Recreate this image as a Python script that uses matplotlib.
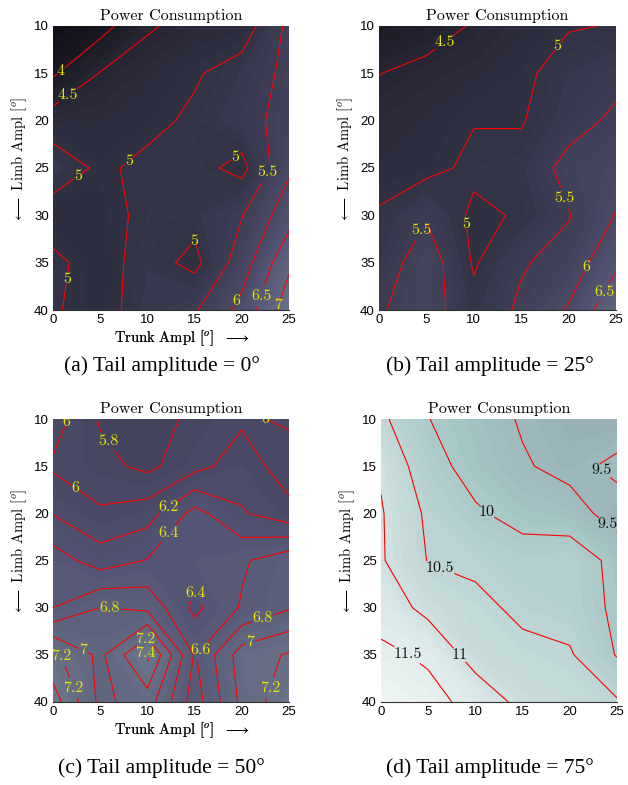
import numpy as np
import matplotlib
matplotlib.use("Agg")
import matplotlib.pyplot as plt
from matplotlib.colors import Normalize

plt.rcParams['font.family'] = ['cmr10', 'DejaVu Serif']
plt.rcParams['mathtext.fontset'] = 'cm'
plt.rcParams['axes.unicode_minus'] = False

trunk = [0, 5, 10, 15, 20, 25]
limb = [10, 15, 20, 25, 30, 35, 40]

# power consumption, rows = limb amplitude, cols = trunk amplitude
power_tail0 = [
    [3.60, 3.81, 4.44, 4.68, 4.73, 5.62],
    [3.94, 4.52, 4.74, 4.95, 5.21, 5.62],
    [4.75, 4.78, 4.88, 5.08, 5.30, 5.70],
    [5.27, 4.92, 5.11, 5.15, 4.86, 5.92],
    [4.77, 4.85, 5.10, 5.15, 5.48, 6.30],
    [5.10, 4.81, 5.19, 4.87, 5.75, 6.90],
    [5.05, 4.80, 5.25, 5.45, 6.15, 7.30],
]
power_tail25 = [
    [4.02, 4.25, 4.55, 4.75, 4.97, 5.02],
    [4.49, 4.65, 4.75, 4.90, 5.20, 5.35],
    [4.70, 4.80, 4.98, 4.97, 5.30, 5.60],
    [4.80, 4.87, 5.10, 5.15, 5.67, 5.85],
    [5.05, 5.45, 4.90, 5.05, 5.47, 6.02],
    [5.20, 5.80, 4.95, 5.45, 5.70, 6.40],
    [5.45, 5.75, 5.14, 5.59, 6.05, 6.90],
]
power_tail50 = [
    [6.10, 5.78, 5.70, 5.85, 5.97, 6.03],
    [5.97, 5.86, 5.75, 5.93, 6.10, 5.90],
    [6.19, 6.03, 6.11, 6.47, 6.22, 6.06],
    [6.50, 6.30, 6.41, 6.50, 6.57, 6.74],
    [6.60, 6.80, 6.75, 6.35, 6.62, 6.78],
    [7.25, 6.95, 7.45, 6.58, 7.10, 7.22],
    [7.50, 6.95, 7.10, 6.50, 7.05, 7.35],
]
power_tail75 = [
    [10.60, 10.01, 9.75, 9.45, 9.25, 9.19],
    [10.94, 10.18, 9.82, 9.55, 9.35, 9.62],
    [11.04, 10.41, 10.06, 9.83, 9.72, 9.28],
    [11.05, 10.48, 10.40, 10.22, 10.30, 9.85],
    [11.30, 10.85, 10.62, 10.40, 10.30, 9.90],
    [11.60, 11.43, 10.78, 10.62, 10.55, 9.97],
    [11.85, 11.65, 11.35, 10.85, 10.70, 10.55],
]

levels_tail0 = [4, 4.5, 5, 5.5, 6, 6.5, 7]
levels_tail25 = [4.5, 5, 5.5, 6, 6.5]
levels_tail50 = [5.8, 6.0, 6.2, 6.4, 6.6, 6.8, 7.0, 7.2, 7.4]
levels_tail75 = [9.5, 10, 10.5, 11, 11.5]

# where the contour labels sit (data coords)
labels_tail0 = [(0.7, 14.6), (1.6, 17.3), (7.9, 24.1), (2.5, 25.7), (19.1, 23.6),
                (14.8, 32.6), (1.4, 36.7), (22.8, 25.5), (19.1, 38.9), (21.7, 38.4),
                (23.5, 39.3)]
labels_tail25 = [(6.0, 10.5), (18.9, 12.2), (19.5, 28.2), (9.5, 30.9), (4.3, 31.5),
                 (21.8, 35.4), (23.4, 37.9)]
labels_tail50 = [(2.2, 10.6), (5.1, 12.9), (21.7, 10.2), (2.2, 17.5), (12.2, 19.3),
                 (12.2, 22.1), (15.2, 28.4), (6.0, 29.8), (22.2, 31.1), (20.7, 33.0),
                 (9.7, 33.2), (9.6, 34.6), (15.7, 34.5), (1.2, 35.0), (3.4, 34.1),
                 (1.6, 38.7), (21.4, 38.0)]
labels_tail75 = [(23.4, 15.4), (24.0, 21.2), (11.3, 19.8), (6.5, 25.2), (2.5, 35.5),
                 (8.0, 35.3)]

captions = ['(a) Tail amplitude = 0°', '(b) Tail amplitude = 25°',
            '(c) Tail amplitude = 50°', '(d) Tail amplitude = 75°']

W, H = 628, 785
fig = plt.figure(figsize=(W / 100, H / 100), dpi=100)

# axes boxes in pixels: left, top, right, bottom
boxes = [(53, 26, 289, 310), (379, 26, 616, 310),
         (53, 419, 289, 702), (381, 419, 617, 702)]
cap_pos = [(162, 366), (490, 366), (161, 768), (490, 768)]

panels = [
    (power_tail0, levels_tail0, labels_tail0, '#e6e600'),
    (power_tail25, levels_tail25, labels_tail25, '#e6e600'),
    (power_tail50, levels_tail50, labels_tail50, '#e6e600'),
    (power_tail75, levels_tail75, labels_tail75, '#111111'),
]

X, Y = np.meshgrid(trunk, limb)
norm = Normalize(vmin=2.9, vmax=12.3)
fill_levels = np.arange(2.8, 12.4, 0.1)

for (Z, lv, lab, lcol), (l, t, r, b), (cx, cy), cap in zip(panels, boxes, cap_pos, captions):
    ax = fig.add_axes([l / W, 1 - b / H, (r - l) / W, (b - t) / H])
    Z = np.array(Z)
    ax.contourf(X, Y, Z, levels=fill_levels, cmap='bone', norm=norm)
    cs = ax.contour(X, Y, Z, levels=lv, colors='red', linewidths=0.8)
    txts = ax.clabel(cs, fmt='%g', colors=lcol, fontsize=11.5, inline=True,
                     inline_spacing=1, manual=lab)
    for tx in txts:
        tx.set_rotation(0)
    ax.set_xlim(0, 25)
    ax.set_ylim(40, 10)
    ax.set_xticks(trunk)
    ax.set_yticks([10, 15, 20, 25, 30, 35, 40])
    ax.tick_params(length=0, labelsize=9.5, labelfontfamily='Liberation Sans', pad=3)
    for s in ['top', 'right', 'left']:
        ax.spines[s].set_visible(False)
    ax.spines['bottom'].set_linewidth(0.8)
    ax.spines['bottom'].set_color('#333333')
    ax.set_title('Power Consumption', fontsize=11.5, pad=4)
    ax.set_xlabel(r'Trunk Ampl [$^o$]  $\longrightarrow$', fontsize=10.5)
    ax.xaxis.set_label_coords((182 - l) / (r - l), -0.065)
    ax.set_ylabel(r'$\longleftarrow$ Limb Ampl [$^o$]', fontsize=10.5)
    ax.yaxis.set_label_coords(-0.10, 0.53)
    fig.text(cx / W, 1 - cy / H, cap, ha='center', va='center',
             family='Liberation Serif', fontsize=15.5)

fig.savefig('out.png', dpi=100)
